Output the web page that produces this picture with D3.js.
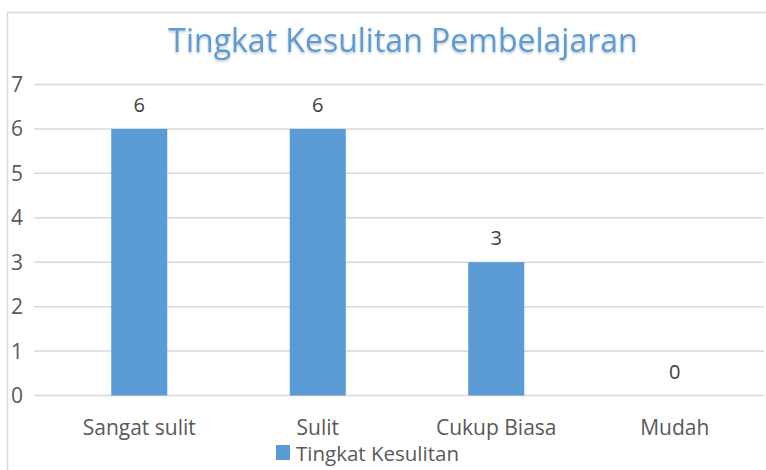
<!DOCTYPE html>
<html>
<head>
<meta charset="utf-8">
<script src="https://cdn.jsdelivr.net/npm/d3@7"></script>
<style>
  body { margin: 0; background: #fff; }
  svg text { font-family: "Open Sans", "Noto Sans", sans-serif; }
</style>
</head>
<body>
<div id="chart"></div>
<script>
// data
const categories = ["Sangat sulit", "Sulit", "Cukup Biasa", "Mudah"];
const values = [6, 6, 3, 0];
const yTicks = [0, 1, 2, 3, 4, 5, 6, 7];
const chartTitle = "Tingkat Kesulitan Pembelajaran";
const seriesName = "Tingkat Kesulitan";

const width = 766, height = 470;
const barColor = "#5b9bd5";
const textColor = "#595959";

const svg = d3.select("#chart").append("svg")
    .attr("width", width)
    .attr("height", height);

// chart frame (runs off the right and bottom edge in the reference)
svg.append("rect")
    .attr("x", 7.5).attr("y", 12.5)
    .attr("width", 800).attr("height", 500)
    .attr("fill", "none")
    .attr("stroke", "#d9d9d9")
    .attr("stroke-width", 1.5);

// scales
var x = d3.scaleBand()
    .domain(categories)
    .range([50, 764])
    .paddingInner(0.686)
    .paddingOuter(0.343);

var y = d3.scaleLinear()
    .domain([0, 7])
    .range([395.5, 84.5]);

// gridlines
svg.append("g")
    .selectAll("line")
    .data(yTicks)
    .enter()
    .append("line")
    .attr("x1", 34).attr("x2", 764)
    .attr("y1", d => y(d)).attr("y2", d => y(d))
    .attr("stroke", "#d9d9d9")
    .attr("stroke-width", 1.5);

// y axis labels
svg.append("g")
    .selectAll("text")
    .data(yTicks)
    .enter()
    .append("text")
    .attr("x", 17)
    .attr("y", d => y(d) + 7.5)
    .attr("text-anchor", "middle")
    .attr("font-size", 21)
    .attr("fill", textColor)
    .text(d => d);

// bars
svg.selectAll(".bar")
    .data(values)
    .enter()
    .append("rect")
    .attr("class", "bar")
    .attr("x", (d, i) => x(categories[i]))
    .attr("width", x.bandwidth())
    .attr("y", d => y(d))
    .attr("height", d => y(0) - y(d))
    .attr("fill", barColor);

// value labels
svg.selectAll("text.bar-text")
    .data(values)
    .enter()
    .append("text")
    .attr("class", "bar-text")
    .attr("x", (d, i) => x(categories[i]) + x.bandwidth() / 2)
    .attr("y", d => y(d) - 17)
    .attr("text-anchor", "middle")
    .attr("font-size", 20)
    .attr("fill", "#404040")
    .text(d => d);

// category labels
svg.append("g")
    .selectAll("text")
    .data(categories)
    .enter()
    .append("text")
    .attr("x", d => x(d) + x.bandwidth() / 2)
    .attr("y", 435)
    .attr("text-anchor", "middle")
    .attr("font-size", 21)
    .attr("fill", textColor)
    .text(d => d);

// title with a soft shadow
const defs = svg.append("defs");
const f = defs.append("filter").attr("id", "glow")
    .attr("x", "-5%").attr("y", "-20%").attr("width", "110%").attr("height", "150%");
f.append("feDropShadow")
    .attr("dx", 0).attr("dy", 1.5)
    .attr("stdDeviation", 1.2)
    .attr("flood-color", "#000")
    .attr("flood-opacity", 0.25);

svg.append("text")
    .attr("x", 403)
    .attr("y", 52)
    .attr("text-anchor", "middle")
    .attr("font-size", 32)
    .attr("fill", "#5b9bd5")
    .attr("filter", "url(#glow)")
    .text(chartTitle);

// legend
const legend = svg.append("g").attr("transform", "translate(276,445)");
legend.append("rect")
    .attr("width", 14).attr("height", 15)
    .attr("fill", barColor);
legend.append("text")
    .attr("x", 20)
    .attr("y", 15.5)
    .attr("font-size", 20.5)
    .attr("fill", textColor)
    .text(seriesName);
</script>
</body>
</html>
